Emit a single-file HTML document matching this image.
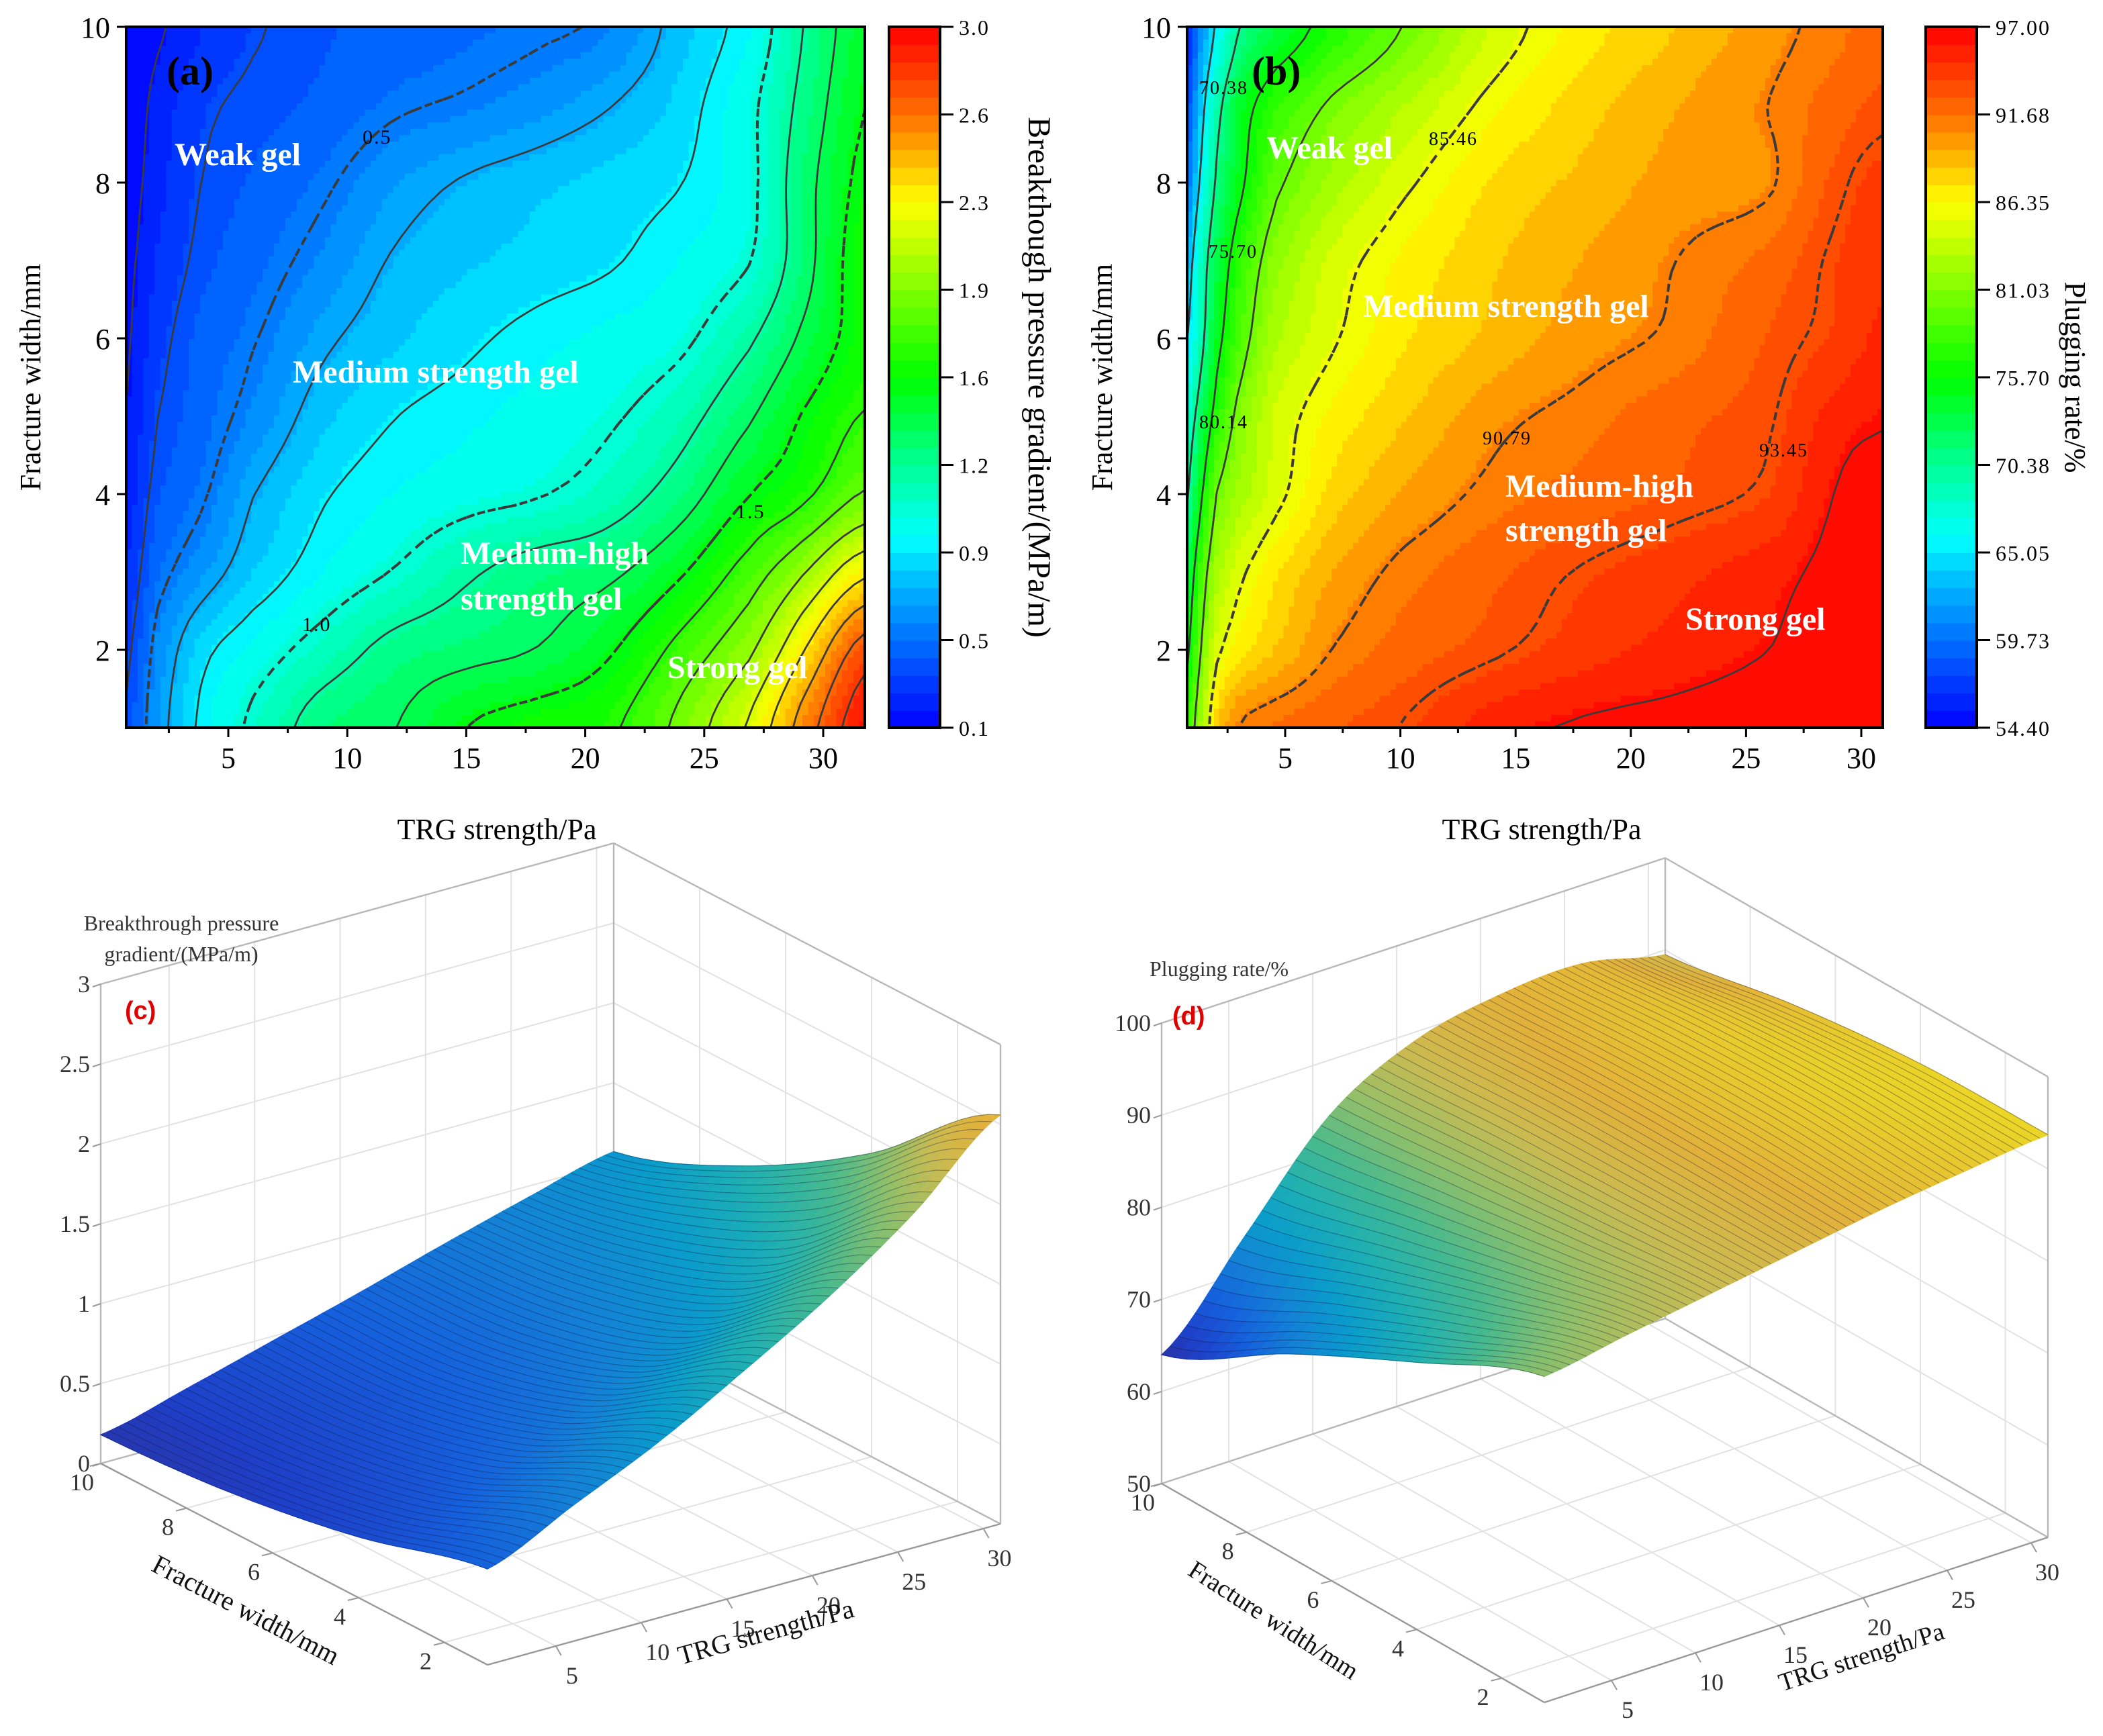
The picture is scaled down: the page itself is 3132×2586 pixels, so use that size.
<!DOCTYPE html>
<html><head><meta charset="utf-8"><title>TRG gel figure</title>
<style>
html,body{margin:0;padding:0;background:#fff;}
svg{display:block;font-family:"Liberation Serif",serif;}
.wl{fill:#fff;font-weight:bold;font-size:24px;}
.tk{font-size:22px;fill:#000;}
.cb{font-size:16px;fill:#000;letter-spacing:1px;}
.t3{font-size:18px;fill:#333;}
</style></head>
<body>
<svg id="fig" xmlns="http://www.w3.org/2000/svg" width="3132" height="2586" viewBox="0 0 1566 1293">
<defs>
<clipPath id="clipA"><rect x="94" y="20" width="550" height="522"/></clipPath>
<clipPath id="clipB"><rect x="884" y="20" width="518" height="522"/></clipPath>
</defs>
<rect x="0" y="0" width="1566" height="1293" fill="#fff"/>

<g id="panelA">
<g id="heatA" clip-path="url(#clipA)"></g>
<g id="contA" clip-path="url(#clipA)"></g>
<rect x="94" y="20" width="550" height="522" fill="none" stroke="#000" stroke-width="2"/>
<g id="axA"></g>
<text x="124" y="63" font-size="30" font-weight="bold">(a)</text>
<text class="wl" x="130" y="123">Weak gel</text>
<text class="wl" x="218" y="285">Medium strength gel</text>
<text class="wl" x="343" y="420">Medium-high</text>
<text class="wl" x="343" y="454">strength gel</text>
<text class="wl" x="497" y="505">Strong gel</text>
<text x="270" y="107" font-size="15" letter-spacing="1">0.5</text>
<text x="225" y="470" font-size="15" letter-spacing="1">1.0</text>
<text x="548" y="386" font-size="15" letter-spacing="1">1.5</text>
<text class="tk" x="370" y="625" text-anchor="middle">TRG strength/Pa</text>
<text class="tk" transform="translate(30,281) rotate(-90)" text-anchor="middle">Fracture width/mm</text>
<g id="cbarA"></g>
<text transform="translate(766,281) rotate(90)" text-anchor="middle" font-size="24">Breakthough pressure gradient/(MPa/m)</text>
</g>

<g id="panelB">
<g id="heatB" clip-path="url(#clipB)"></g>
<g id="contB" clip-path="url(#clipB)"></g>
<rect x="884" y="20" width="518" height="522" fill="none" stroke="#000" stroke-width="2"/>
<g id="axB"></g>
<text x="932" y="63" font-size="30" font-weight="bold">(b)</text>
<text class="wl" x="943" y="118">Weak gel</text>
<text class="wl" x="1015" y="236">Medium strength gel</text>
<text class="wl" x="1121" y="370">Medium-high</text>
<text class="wl" x="1121" y="403">strength gel</text>
<text class="wl" x="1255" y="469">Strong gel</text>
<text x="893" y="70" font-size="14" letter-spacing="1">70.38</text>
<text x="900" y="192" font-size="14" letter-spacing="1">75.70</text>
<text x="893" y="319" font-size="14" letter-spacing="1">80.14</text>
<text x="1064" y="108" font-size="14" letter-spacing="1">85.46</text>
<text x="1104" y="331" font-size="14" letter-spacing="1">90.79</text>
<text x="1310" y="340" font-size="14" letter-spacing="1">93.45</text>
<text class="tk" x="1148" y="625" text-anchor="middle">TRG strength/Pa</text>
<text class="tk" transform="translate(828,281) rotate(-90)" text-anchor="middle">Fracture width/mm</text>
<g id="cbarB"></g>
<text transform="translate(1538,281) rotate(90)" text-anchor="middle" font-size="22">Plugging rate/%</text>
</g>

<g id="panelC">
<g id="boxC"></g>
<g id="surfC"></g>
<text x="135" y="693" text-anchor="middle" font-size="16" fill="#333">Breakthrough pressure</text>
<text x="135" y="716" text-anchor="middle" font-size="16" fill="#333">gradient/(MPa/m)</text>
<text x="93" y="759" font-size="19" font-weight="bold" fill="#e00000" font-family="Liberation Sans, sans-serif">(c)</text>
<text transform="translate(180,1205) rotate(27.5)" text-anchor="middle" font-size="20" fill="#111">Fracture width/mm</text>
<text transform="translate(572,1222) rotate(-15.4)" text-anchor="middle" font-size="20" fill="#111">TRG strength/Pa</text>
</g>

<g id="panelD">
<g id="boxD"></g>
<g id="surfD"></g>
<text x="856" y="727" font-size="16" fill="#333">Plugging rate/%</text>
<text x="873" y="763" font-size="19" font-weight="bold" fill="#e00000" font-family="Liberation Sans, sans-serif">(d)</text>
<text transform="translate(945,1212) rotate(32.8)" text-anchor="middle" font-size="19" fill="#111">Fracture width/mm</text>
<text transform="translate(1388,1240) rotate(-18)" text-anchor="middle" font-size="19" fill="#111">TRG strength/Pa</text>
</g>
</svg>

<script>
// ===== Panel (a) data: breakthrough pressure gradient (MPa/m) =====
const aX = [0.7, 2, 4, 6, 9, 12, 15, 18, 21, 24, 27, 29, 31.8];
const aY = [1, 2, 3, 4, 5, 6, 7, 8, 9, 10];
const aZ1  = [0.35, 0.60, 0.88, 1.03, 1.25, 1.33, 1.50, 1.58, 1.64, 1.88, 2.20, 2.55, 2.95];
const aZ2  = [0.30, 0.55, 0.80, 0.92, 1.07, 1.22, 1.28, 1.34, 1.48, 1.72, 1.98, 2.30, 2.75];
const aZ3  = [0.25, 0.45, 0.60, 0.75, 0.90, 1.01, 1.14, 1.24, 1.30, 1.48, 1.75, 1.97, 2.30];
const aZ4  = [0.20, 0.38, 0.49, 0.66, 0.82, 0.90, 0.95, 0.99, 1.08, 1.25, 1.50, 1.62, 1.85];
const aZ5  = [0.17, 0.33, 0.44, 0.55, 0.73, 0.83, 0.88, 0.93, 0.98, 1.10, 1.32, 1.50, 1.68];
const aZ6  = [0.15, 0.29, 0.42, 0.49, 0.64, 0.74, 0.81, 0.87, 0.92, 0.97, 1.15, 1.35, 1.58];
const aZ7  = [0.14, 0.25, 0.37, 0.44, 0.55, 0.68, 0.74, 0.78, 0.82, 0.90, 1.00, 1.25, 1.60];
const aZ8  = [0.12, 0.22, 0.34, 0.40, 0.48, 0.60, 0.68, 0.73, 0.78, 0.83, 0.97, 1.25, 1.55];
const aZ9  = [0.10, 0.20, 0.31, 0.36, 0.41, 0.48, 0.52, 0.58, 0.66, 0.78, 0.97, 1.20, 1.50];
const aZ10 = [0.10, 0.15, 0.25, 0.32, 0.38, 0.42, 0.45, 0.48, 0.53, 0.72, 0.90, 1.15, 1.45];
const aZ = [aZ1, aZ2, aZ3, aZ4, aZ5, aZ6, aZ7, aZ8, aZ9, aZ10];
const aCbarTicks = ['3.0','2.6','2.3','1.9','1.6','1.2','0.9','0.5','0.1'];
const aSolid = [0.1667, 0.3333, 0.6667, 0.8333, 1.1667, 1.3333, 1.6667, 1.8333, 2.0, 2.1667, 2.3333, 2.5, 2.6667, 2.8333];
const aDashed = [0.5, 1.0, 1.5];

// ===== Panel (b) data: plugging rate (%) =====
const bX = [0.75, 1.3, 2, 3, 4.5, 7, 10, 14, 18, 22, 26, 29, 31];
const bY = [1, 2, 3, 4, 5, 6, 7, 8, 9, 10];
const bZ1  = [78, 82, 88, 90.9, 91.8, 92.6, 93.5, 95.5, 96.3, 96.6, 96.9, 97, 97];
const bZ2  = [75, 80, 84.8, 87, 88.5, 90.8, 92.1, 93.2, 94.4, 95.3, 96.1, 96.9, 97];
const bZ3  = [73, 78, 82.5, 85, 87.2, 89.5, 91.2, 92.5, 93.6, 94.5, 95.5, 96.6, 96.9];
const bZ4  = [70, 75, 80.1, 82.5, 84.8, 87.8, 89.6, 91.2, 92.1, 92.9, 93.8, 96.2, 96.5];
const bZ5  = [68, 72, 77, 81, 84.3, 86.6, 88.3, 90.3, 91.3, 92.4, 93.3, 95.4, 96];
const bZ6  = [65, 69, 74.5, 78.8, 82.8, 85.2, 87.2, 88.8, 90.2, 91.1, 92.8, 94, 95.2];
const bZ7  = [63, 68, 73, 77.5, 81.5, 84.5, 86.5, 88.3, 89.6, 90.8, 92, 93.8, 94.6];
const bZ8  = [60, 65.5, 70.8, 75, 79.5, 82.5, 85, 87.5, 88.8, 90, 90.6, 93.1, 94.2];
const bZ9  = [58, 63.5, 69, 74, 77.5, 80.5, 83, 86, 88, 89.5, 90.8, 92.2, 93];
const bZ10 = [56, 61, 65.5, 70.4, 73.5, 76.9, 80.1, 84.3, 86.9, 88.5, 90.2, 91.4, 92.3];
const bZ = [bZ1, bZ2, bZ3, bZ4, bZ5, bZ6, bZ7, bZ8, bZ9, bZ10];
const bCbarTicks = ['97.00','91.68','86.35','81.03','75.70','70.38','65.05','59.73','54.40'];
const bSolid = [65.05, 70.38, 75.70, 80.14, 96.1];
const bDashed = [85.46, 90.79, 93.45];

// ===== Panel (c) data =====
const cX = [1, 6, 11, 16, 21, 26, 31];
const cY = [1, 4, 7, 10];
const cZ1 = [0.60, 0.85, 1.10, 1.40, 1.72, 2.10, 2.56];
const cZ4 = [0.38, 0.52, 0.70, 0.90, 1.12, 1.45, 1.90];
const cZ7 = [0.24, 0.36, 0.50, 0.66, 0.86, 1.10, 1.40];
const cZ10 = [0.18, 0.32, 0.47, 0.62, 0.78, 0.93, 1.07];
const cZ = [cZ1, cZ4, cZ7, cZ10];
const cZTicks = ['0','0.5','1','1.5','2','2.5','3'];
const cZTickVals = [0, 0.5, 1, 1.5, 2, 2.5, 3];
const cWTicks = [2, 4, 6, 8, 10];
const cTTicks = [5, 10, 15, 20, 25, 30];

// ===== Panel (d) data =====
const dX = [1, 6, 11, 16, 21, 26, 31];
const dY = [1, 4, 7, 10];
const dZ1 = [85.4, 87, 88.5, 90, 91.5, 92.7, 93.7];
const dZ4 = [79, 83, 87, 90, 92, 93.3, 93.5];
const dZ7 = [72, 78.5, 85.5, 89.8, 91.8, 92.8, 92];
const dZ10 = [64, 74, 84, 89, 91, 91.5, 89.5];
const dZ = [dZ1, dZ4, dZ7, dZ10];
const dZTicks = ['50','60','70','80','90','100'];
const dZTickVals = [50, 60, 70, 80, 90, 100];
const dWTicks = [2, 4, 6, 8, 10];
const dTTicks = [5, 10, 15, 20, 25, 30];

// ===== helpers =====
const NS = 'http://www.w3.org/2000/svg';
function mk(tag, parent, attrs) {
  const e = document.createElementNS(NS, tag);
  for (const k in attrs) e.setAttribute(k, attrs[k]);
  parent.appendChild(e);
  return e;
}
function hx(h) { return [parseInt(h.slice(1,3),16), parseInt(h.slice(3,5),16), parseInt(h.slice(5,7),16)]; }
const RAINBOW = [[0,'#0000ff'],[0.125,'#0070ff'],[0.2,'#00b4ff'],[0.27,'#00ffff'],[0.38,'#00ff90'],[0.5,'#00ff00'],[0.625,'#80ff00'],[0.75,'#ffff00'],[0.875,'#ff7000'],[1,'#ff0000']].map(s=>[s[0],hx(s[1])]);
const PARULA = [[0,'#352a87'],[0.1,'#1e3fc8'],[0.2,'#1560dc'],[0.3,'#1480d6'],[0.4,'#0a9ccb'],[0.5,'#1fb0b2'],[0.6,'#46b98e'],[0.7,'#8bbf6c'],[0.8,'#c9bb52'],[0.88,'#e2b13a'],[0.95,'#e9d02a'],[1,'#f3ec18']].map(s=>[s[0],hx(s[1])]);
function cmap(stops, t) {
  t = Math.max(0, Math.min(1, t));
  let i = 0;
  while (i < stops.length - 2 && t > stops[i+1][0]) i++;
  const a = stops[i], b = stops[i+1];
  const f = (t - a[0]) / (b[0] - a[0]);
  const c = [0,1,2].map(k => Math.round(a[1][k] + f * (b[1][k] - a[1][k])));
  return 'rgb(' + c.join(',') + ')';
}
function fidx(xs, x) {
  x = Math.max(xs[0], Math.min(xs[xs.length-1], x));
  let i = 0; while (i < xs.length - 2 && x > xs[i+1]) i++;
  return i + (x - xs[i]) / (xs[i+1] - xs[i]);
}
function cr(p0, p1, p2, p3, t) {
  return 0.5 * ((2*p1) + (-p0 + p2)*t + (2*p0 - 5*p1 + 4*p2 - p3)*t*t + (-p0 + 3*p1 - 3*p2 + p3)*t*t*t);
}
function interp2(xs, ys, Z, x, y) {
  const fx = fidx(xs, x), fy = fidx(ys, y);
  const nX = xs.length, nY = ys.length;
  const i = Math.min(Math.floor(fx), nX - 2), tx = fx - i;
  const j = Math.min(Math.floor(fy), nY - 2), ty = fy - j;
  const cl = (k, n) => Math.max(0, Math.min(n - 1, k));
  const row = r => { const R = Z[cl(r, nY)]; return cr(R[cl(i-1,nX)], R[i], R[i+1], R[cl(i+2,nX)], tx); };
  return cr(row(j-1), row(j), row(j+1), row(j+2), ty);
}

function contourPanel(cfg) {
  const heat = document.getElementById(cfg.heat), cont = document.getElementById(cfg.cont);
  const L = cfg.left, R = cfg.right, T = 20, B = 542;
  const xv = px => (px - cfg.xo) / cfg.xk;
  const yv = py => 1 + (B - py) / 58;
  const nx = 130, ny = 110, cw = (R - L) / nx, ch = (B - T) / ny;
  for (let i = 0; i < nx; i++) for (let j = 0; j < ny; j++) {
    const v = interp2(cfg.xs, cfg.ys, cfg.Z, xv(L + (i + 0.5) * cw), yv(T + (j + 0.5) * ch));
    const t = (v - cfg.vmin) / (cfg.vmax - cfg.vmin);
    const q = (Math.floor(Math.max(0, Math.min(0.9999, t)) * 40) + 0.5) / 40;
    const r = mk('rect', heat, {x: (L + i * cw).toFixed(2), y: (T + j * ch).toFixed(2), width: (cw + 0.6).toFixed(2), height: (ch + 0.6).toFixed(2), fill: cmap(RAINBOW, q)});
    
    
  }
  const NX = 70, NY = 60, gw = (R - L) / NX, gh = (B - T) / NY;
  const V = [];
  for (let j = 0; j <= NY; j++) { V.push([]); for (let i = 0; i <= NX; i++) V[j].push(interp2(cfg.xs, cfg.ys, cfg.Z, xv(L + i * gw), yv(T + j * gh))); }
  const levels = cfg.solid.map(l => [l, false]).concat(cfg.dashed.map(l => [l, true]));
  levels.forEach(([lev, dash]) => {
    let d = '';
    for (let j = 0; j < NY; j++) for (let i = 0; i < NX; i++) {
      const c = [[L+i*gw, T+j*gh, V[j][i]], [L+(i+1)*gw, T+j*gh, V[j][i+1]], [L+(i+1)*gw, T+(j+1)*gh, V[j+1][i+1]], [L+i*gw, T+(j+1)*gh, V[j+1][i]]];
      const pts = [];
      for (let k = 0; k < 4; k++) {
        const p = c[k], q = c[(k+1)%4];
        if ((p[2] < lev) !== (q[2] < lev)) {
          const f = (lev - p[2]) / (q[2] - p[2]);
          pts.push([p[0] + f*(q[0]-p[0]), p[1] + f*(q[1]-p[1])]);
        }
      }
      for (let k = 0; k + 1 < pts.length; k += 2) d += 'M' + pts[k][0].toFixed(1) + ' ' + pts[k][1].toFixed(1) + 'L' + pts[k+1][0].toFixed(1) + ' ' + pts[k+1][1].toFixed(1);
    }
    if (!d) return;
    const p = mk('path', cont, {d: d, fill: 'none', stroke: '#3a3a3a', 'stroke-width': dash ? 2 : 1.4});
    if (dash) p.setAttribute('stroke-dasharray', '6 5');
    
    
  });
  const ax = document.getElementById(cfg.ax);
  [2,4,6,8,10].forEach(v => {
    const y = B - (v - 1) * 58;
    mk('line', ax, {x1: L - 7, y1: y, x2: L, y2: y, stroke: '#000', 'stroke-width': 1.5});
    const t = mk('text', ax, {x: L - 12, y: y + 8, 'text-anchor': 'end', class: 'tk'});
    t.textContent = String(v);
    
    
  });
  for (let v = 2.5; v <= 31; v += 2.5) {
    const x = cfg.xo + cfg.xk * v;
    if (x < L || x > R) continue;
    const major = Math.abs(v % 5) < 0.01;
    mk('line', ax, {x1: x, y1: B, x2: x, y2: B + (major ? 7 : 4), stroke: '#000', 'stroke-width': 1.5});
    if (major) {
      const t = mk('text', ax, {x: x, y: B + 30, 'text-anchor': 'middle', class: 'tk'});
      t.textContent = String(v);
      
      
    }
  }
  const cb = document.getElementById(cfg.cbar), cx = cfg.cbx;
  for (let k = 0; k < 40; k++) {
    const r = mk('rect', cb, {x: cx, y: (B - (k + 1) * (B - T) / 40).toFixed(2), width: 38, height: ((B - T) / 40 + 0.5).toFixed(2), fill: cmap(RAINBOW, (k + 0.5) / 40)});
    
    
  }
  mk('rect', cb, {x: cx, y: T, width: 38, height: B - T, fill: 'none', stroke: '#000', 'stroke-width': 2});
  cfg.ticks.forEach((lab, k) => {
    const y = T + k * (B - T) / 8;
    mk('line', cb, {x1: cx + 38, y1: y, x2: cx + 48, y2: y, stroke: '#000', 'stroke-width': 1.5});
    const t = mk('text', cb, {x: cx + 52, y: y + 6, class: 'cb'});
    t.textContent = lab;
    
    
  });
}
contourPanel({heat:'heatA', cont:'contA', ax:'axA', cbar:'cbarA', xs:aX, ys:aY, Z:aZ, vmin:0.1, vmax:3.0, left:94, right:644, xo:81.4, xk:17.72, solid:aSolid, dashed:aDashed, cbx:662, ticks:aCbarTicks});
contourPanel({heat:'heatB', cont:'contB', ax:'axB', cbar:'cbarB', xs:bX, ys:bY, Z:bZ, vmin:54.4, vmax:97.0, left:884, right:1402, xo:871.2, xk:17.16, solid:bSolid, dashed:bDashed, cbx:1434, ticks:bCbarTicks});

function panel3d(cfg) {
  const A = cfg.A, Bc = cfg.B, C = cfg.C;
  const base = (x, y) => [Bc[0] + (x-1)/30*(C[0]-Bc[0]) + (y-1)/9*(A[0]-Bc[0]), Bc[1] + (x-1)/30*(C[1]-Bc[1]) + (y-1)/9*(A[1]-Bc[1])];
  const P = (x, y, z) => { const b = base(x, y); return [b[0], b[1] - (z - cfg.z0) * cfg.ez]; };
  const box = document.getElementById(cfg.box), surf = document.getElementById(cfg.surf);
  const ln = (p, q, col, w, name) => { const l = mk('line', box, {x1: p[0].toFixed(1), y1: p[1].toFixed(1), x2: q[0].toFixed(1), y2: q[1].toFixed(1), stroke: col, 'stroke-width': w});   };
  const zt = cfg.zvals[cfg.zvals.length-1];
  const G = '#e2e2e2';
  cfg.tt.forEach(x => { ln(P(x,10,cfg.z0), P(x,10,zt), G, 1, 'grid-line'); ln(P(x,1,cfg.z0), P(x,10,cfg.z0), G, 1, 'grid-line'); });
  cfg.wt.forEach(y => { ln(P(31,y,cfg.z0), P(31,y,zt), G, 1, 'grid-line'); ln(P(1,y,cfg.z0), P(31,y,cfg.z0), G, 1, 'grid-line'); });
  cfg.zvals.forEach(z => { ln(P(1,10,z), P(31,10,z), G, 1, 'grid-line'); ln(P(31,10,z), P(31,1,z), G, 1, 'grid-line'); });
  const F = '#b8b8b8';
  ln(P(1,10,cfg.z0), P(31,10,cfg.z0), F, 1.2, 'box-edge');
  ln(P(31,10,cfg.z0), P(31,1,cfg.z0), F, 1.2, 'box-edge');
  ln(P(1,10,cfg.z0), P(1,10,zt), F, 1.2, 'box-edge');
  ln(P(31,10,cfg.z0), P(31,10,zt), F, 1.2, 'box-edge');
  ln(P(31,1,cfg.z0), P(31,1,zt), F, 1.2, 'box-edge');
  ln(P(1,10,zt), P(31,10,zt), F, 1.2, 'box-edge');
  ln(P(31,10,zt), P(31,1,zt), F, 1.2, 'box-edge');
  ln(P(1,10,cfg.z0), P(1,1,cfg.z0), '#999', 1.2, 'width-axis');
  ln(P(1,1,cfg.z0), P(31,1,cfg.z0), '#999', 1.2, 'trg-axis');
  cfg.zvals.forEach((z, k) => {
    const p = P(1,10,z);
    ln(p, [p[0]-6, p[1]+2], '#999', 1, 'z-tick');
    const t = mk('text', box, {x: p[0]-8, y: p[1]+6, 'text-anchor': 'end', class: 't3'});
    t.textContent = cfg.zlabels[k];
    
    
  });
  cfg.wt.forEach(y => {
    const p = P(1,y,cfg.z0);
    ln(p, [p[0]-8, p[1]+2], '#999', 1, 'width-tick');
    const t = mk('text', box, {x: p[0]-14, y: p[1]+20, 'text-anchor': 'middle', class: 't3'});
    t.textContent = String(y);
    
    
  });
  cfg.tt.forEach(x => {
    const p = P(x,1,cfg.z0);
    ln(p, [p[0]+4, p[1]+7], '#999', 1, 'trg-tick');
    const t = mk('text', box, {x: p[0]+12, y: p[1]+28, 'text-anchor': 'middle', class: 't3'});
    t.textContent = String(x);
    
    
  });
  const nx = 60, ny = 30, quads = [];
  const zf = (x, y) => interp2(cfg.xs, cfg.ys, cfg.Z, x, y);
  for (let i = 0; i < nx; i++) for (let j = 0; j < ny; j++) {
    const x0 = 1 + 30*i/nx, x1 = 1 + 30*(i+1)/nx, y0 = 1 + 9*j/ny, y1 = 1 + 9*(j+1)/ny;
    const z00 = zf(x0,y0), z10 = zf(x1,y0), z11 = zf(x1,y1), z01 = zf(x0,y1);
    const pts = [P(x0,y0,z00), P(x1,y0,z10), P(x1,y1,z11), P(x0,y1,z01)];
    const zm = (z00+z10+z11+z01)/4;
    quads.push({pts: pts, z: zm, depth: base((x0+x1)/2, (y0+y1)/2)[1]});
  }
  quads.sort((a, b) => a.depth - b.depth);
  quads.forEach(q => {
    const col = cmap(PARULA, (q.z - cfg.cmin) / (cfg.cmax - cfg.cmin));
    const pg = mk('polygon', surf, {points: q.pts.map(p => p[0].toFixed(1) + ',' + p[1].toFixed(1)).join(' '), fill: col, stroke: col, 'stroke-width': 0.6});
    
    
  });
  for (let i = 0; i <= nx; i++) {
    const x = 1 + 30*i/nx; let d = '';
    for (let j = 0; j <= ny; j++) { const y = 1 + 9*j/ny; const p = P(x, y, zf(x, y)); d += (j ? 'L' : 'M') + p[0].toFixed(1) + ' ' + p[1].toFixed(1); }
    const pl = mk('path', surf, {d: d, fill: 'none', stroke: 'rgba(20,20,60,0.35)', 'stroke-width': 0.6});
    
    
  }
}
panel3d({box:'boxC', surf:'surfC', A:[75,1090], B:[363,1240], C:[745,1135], z0:0, ez:119, xs:cX, ys:cY, Z:cZ, cmin:0, cmax:2.85, zvals:cZTickVals, zlabels:cZTicks, wt:cWTicks, tt:cTTicks});
panel3d({box:'boxD', surf:'surfD', A:[865,1105], B:[1150,1268], C:[1525,1145], z0:50, ez:6.86, xs:dX, ys:dY, Z:dZ, cmin:62.5, cmax:95, zvals:dZTickVals, zlabels:dZTicks, wt:dWTicks, tt:dTTicks});
</script>
</body></html>
